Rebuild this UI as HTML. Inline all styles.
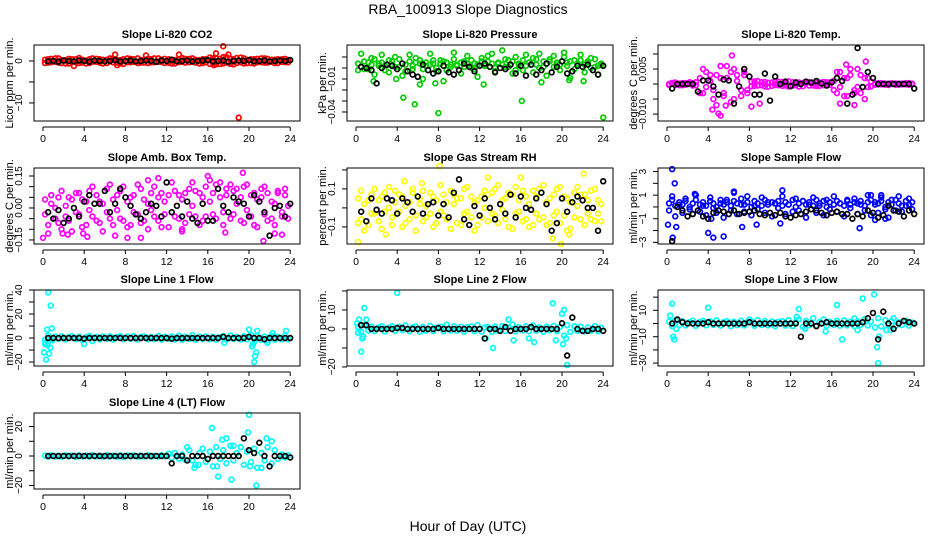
<!DOCTYPE html>
<html><head><meta charset="utf-8"><title>RBA_100913 Slope Diagnostics</title>
<style>
html,body{margin:0;padding:0;background:#fff;}
svg{display:block;font-family:"Liberation Sans",Arial,sans-serif;}
</style></head>
<body>
<svg id="chart" width="936" height="540" viewBox="0 0 936 540" xmlns="http://www.w3.org/2000/svg">
<rect x="0" y="0" width="936" height="540" fill="#fff"/>
<text x="468" y="14" text-anchor="middle" font-size="14">RBA_100913  Slope Diagnostics</text>
<text x="468" y="531" text-anchor="middle" font-size="14">Hour of Day (UTC)</text>
</svg>
<script>
const hours=[0.2,0.5,0.8,1.2,1.5,1.8,2.2,2.5,2.8,3.2,3.5,3.8,4.2,4.5,4.8,5.2,5.5,5.8,6.2,6.5,6.8,7.2,7.5,7.8,8.2,8.5,8.8,9.2,9.5,9.8,10.2,10.5,10.8,11.2,11.5,11.8,12.2,12.5,12.8,13.2,13.5,13.8,14.2,14.5,14.8,15.2,15.5,15.8,16.2,16.5,16.8,17.2,17.5,17.8,18.2,18.5,18.8,19.2,19.5,19.8,20.2,20.5,20.8,21.2,21.5,21.8,22.2,22.5,22.8,23.2,23.5,23.8];
const meanHours=[0.5,1,1.5,2,2.5,3,3.5,4,4.5,5,5.5,6,6.5,7,7.5,8,8.5,9,9.5,10,10.5,11,11.5,12,12.5,13,13.5,14,14.5,15,15.5,16,16.5,17,17.5,18,18.5,19,19.5,20,20.5,21,21.5,22,22.5,23,23.5,24];
const xTicks=[0,4,8,12,16,20,24];

// CO2
const co2A=[0.3,-0.4,0.5,-0.2,0.6,-0.5,0.2,-0.6,0.4,-0.3,0.7,-0.4,0.1,-0.5,0.6,-0.2,0.4,-0.6,0.3,-0.1,0.5,-0.4,0.2,-0.7,0.6,-0.3,0.4,-0.5,0.2,-0.4,0.5,-0.3,0.6,-0.2,0.3,-0.5,0.4,-0.6,0.2,-0.3,0.7,-0.4,0.5,-0.2,0.3,-0.6,0.4,-0.3,0.8,-0.5,0.6,-0.7,0.9,-0.4,0.5,-0.8,0.7,-0.3,0.6,-0.5,0.4,-0.6,0.5,-0.3,0.6,-0.4,0.3,-0.5,0.4,-0.2,0.5,-0.3];
const co2B=[-0.5,0.4,-0.3,0.6,-0.4,0.2,-0.6,0.5,-0.2,0.4,-0.5,0.3,-0.6,0.4,-0.2,0.5,-0.4,0.3,-0.5,0.6,-0.3,0.2,-0.6,0.4,-0.3,0.5,-0.2,0.6,-0.4,0.3,-0.5,0.4,-0.3,0.6,-0.2,0.5,-0.4,0.3,-0.6,0.4,-0.2,0.5,-0.3,0.6,-0.4,0.2,-0.5,0.4,-0.7,0.6,-0.8,0.5,-0.6,0.9,-0.7,0.4,-0.5,0.8,-0.6,0.3,-0.5,0.4,-0.3,0.6,-0.4,0.5,-0.2,0.3,-0.5,0.4,-0.3,0.2];
const co2OutH=[17.5,19,7,13.2,3,16.8,10,18,7.2,16.6];
const co2OutV=[3.5,-13.5,1.5,1.5,-1.2,1.8,1.3,1.5,-1,-1];
const co2Means=[-0.1,0,-0.2,0.1,0,-0.1,0.1,0,-0.2,0.1,0,-0.1,0,0.2,-0.1,0,0.1,-0.1,0,0.1,0,-0.2,0.1,0,0.3,-0.1,0,0.1,-0.1,0,0.1,0.2,-0.1,0,0.1,-0.2,0,0.1,0,0.2,-0.1,0,0.1,-0.1,0,0.1,0,0.2];

// Pressure
const presA=[.004,.001,.006,-.001,.003,.008,.002,.005,-.002,.007,.003,.010,.001,.004,-.003,.006,.002,.009,.004,-.001,.005,.003,.007,.000,.004,.006,-.002,.003,.008,.002,.005,.001,.004,.007,-.001,.003,.006,.002,.011,.004,.000,.005,.003,.008,.001,.006,-.002,.004,.007,.002,.005,.009,.003,.000,.006,.004,.008,.001,.005,.003,.010,.002,.006,-.001,.004,.007,.003,.005,.000,.008,.002,.004];
const presB=[-.002,.013,-.001,.005,.009,-.006,.004,.012,.002,-.004,.006,.001,.008,-.007,.003,.012,-.001,.005,.007,-.010,.002,.013,.004,-.003,.007,-.012,.005,.001,.014,.003,-.005,.006,.011,.000,.004,-.008,.009,.002,.006,.013,-.003,.004,.016,.001,.007,-.005,.010,.003,-.002,.012,.005,-.004,.008,.013,.001,-.007,.006,.011,.003,-.002,.014,.005,-.009,.007,.002,.012,-.004,.006,.009,.001,-.006,.003];
const presOutH=[4.6,5.7,8.0,16.1,24.0,1.7,6.2,7.7,18.0,20.7,22.1,12.4,3.9];
const presOutV=[-.027,-.033,-.041,-.030,-.045,-.012,-.015,-.014,-.013,-.011,-.012,-.015,-.010];
const presMeans=[.001,.000,-.002,-.014,.000,.003,.002,-.001,.004,-.003,-.006,-.008,.003,-.002,-.005,-.003,.002,-.004,-.006,-.002,.004,.001,-.003,.002,.004,.001,-.004,.000,-.001,.003,-.005,.002,-.007,.003,-.006,-.002,.004,-.004,.001,.006,-.005,-.003,.002,.001,.003,-.002,-.006,.002];

// Li-820 temperature
const tempA=[0,.0004,-.0003,.0002,-.0004,.0003,.0001,-.0005,.0006,.002,-.003,.004,.001,-.005,.003,.006,-.004,.002,-.006,.005,.003,-.002,.004,-.003,.0008,-.0006,.001,-.0004,.0007,-.0009,.0005,-.0003,.0008,-.0006,.0004,.0009,-.0005,.0006,-.0008,.0004,.0007,-.0005,.0003,-.0006,.0005,-.0004,.0006,-.0003,.001,-.003,.004,.002,-.004,.003,-.002,.005,-.003,.002,-.001,.0008,.0002,-.0001,.0003,-.0002,.0001,.0003,-.0002,.0001,.0002,-.0001,.0003,0];
const tempB=[-.0003,.0002,.0005,-.0004,.0003,-.0002,.0006,.0003,-.0004,-.003,.005,-.001,.003,-.002,-.007,.002,-.003,.006,.004,-.005,.001,-.004,.003,-.002,-.0007,.0009,-.0005,.0006,-.0008,.0004,-.0006,.0009,-.0004,.0007,-.0005,-.0008,.0006,-.0004,.0005,-.0007,.0003,.0006,-.0005,.0004,-.0006,.0007,-.0004,.0005,-.002,.004,-.001,-.004,.002,.005,-.003,-.001,.003,-.005,.002,-.0008,-.0002,.0003,-.0001,.0002,-.0003,.0001,.0002,-.0002,-.0001,.0003,-.0002,.0001];
const tempOutH=[5.0,5.2,6.3,4.4,8.2,16.8,17.4,19.3,5.7,9.0,18.2];
const tempOutV=[-.0098,-.0105,.0095,-.0085,-.0075,-.0065,.0065,.0075,-.0072,-.0065,-.007];
const tempMeans=[-.0015,0,0,0,0,-.0025,.0012,.0012,-.0008,-.0035,.0015,.0012,-.0065,-.0008,.005,.0025,-.0035,-.0035,.0035,-.0055,.0025,0,.0008,-.0007,.0005,0,.0008,.0005,.001,.0002,-.0005,.0006,.002,.001,-.0065,-.0035,.012,-.001,.004,.002,0,0,0,0,0,0,0,-.0015];

// Ambient box temperature
const ambA=[-.03,-.08,.02,-.05,.05,-.10,.01,-.06,.04,-.02,.07,-.09,.03,.08,-.04,.06,-.07,.02,.09,-.05,.04,-.01,.08,-.06,.03,-.08,.06,-.03,.09,-.06,.02,.07,-.04,.05,-.09,.03,.06,-.02,.08,-.05,.04,-.07,.09,.01,-.04,.07,-.06,.10,.03,-.03,.11,.05,-.02,.09,-.05,.08,.02,-.06,.10,-.01,.06,-.08,.04,.09,-.03,.07,-.05,.02,.08,-.04,.06,.01];
const ambB=[.04,-.12,.06,.00,-.07,.08,-.04,.05,-.11,.07,-.03,.04,-.08,-.01,.10,-.06,.03,-.11,-.02,.11,-.08,.06,-.05,.10,-.09,.05,-.02,.11,-.07,.04,-.10,-.01,.10,-.06,.07,-.03,-.09,.12,-.04,.06,-.10,.07,-.03,.12,.08,-.08,.05,-.04,.13,.07,-.05,.12,-.08,.06,.11,-.03,.09,.05,-.07,.11,-.04,.07,-.09,.05,.10,-.06,.03,-.08,.07,-.02,.09,-.05];
const ambOutH=[0.0,1.9,2.4,3.9,4.3,7.0,8.2,9.5,10.2,11.2,13.5,16.0,17.7,19.4,21.4,22.5,23.2];
const ambOutV=[-.14,-.12,-.125,-.12,-.135,-.13,-.14,-.14,.13,.14,-.11,.15,-.115,.165,-.155,-.12,-.125];
const ambMeans=[-.02,-.05,-.01,-.07,-.05,0,-.04,.03,.06,.02,.02,.08,-.02,.02,.09,.05,.01,-.03,-.05,-.02,.02,.01,-.04,.12,-.02,.01,-.04,.03,-.05,-.07,.02,-.06,-.06,.09,.01,-.02,.05,.03,.02,-.04,.06,.03,-.02,-.13,0,.01,-.04,.02];

// Gas stream RH
const rhA=[.05,-.06,.02,-.09,.07,-.03,.04,-.11,.08,.00,-.05,.09,-.02,.06,-.08,.03,.10,-.04,.05,-.07,.01,.08,-.10,.04,-.02,.07,-.06,.09,.02,-.08,.05,-.03,.11,-.05,.03,-.09,.06,.00,-.07,.08,-.04,.12,-.01,.05,-.10,.07,-.03,.04,.09,-.06,.02,-.09,.06,.10,-.05,.03,-.08,.07,-.02,.11,-.04,.05,-.11,.08,.01,-.06,.07,-.03,.09,-.07,.04,.02];
const rhB=[-.08,.09,-.12,.04,-.03,.10,-.07,.06,-.02,.11,-.09,.03,.07,-.10,.01,-.06,.08,-.12,.02,.09,-.05,-.03,.06,-.08,.12,-.04,.03,-.11,.07,.05,-.09,.10,-.02,.06,-.12,.04,-.05,.09,.07,-.03,.10,-.08,.04,-.06,.08,-.11,.11,-.02,-.07,.06,-.10,.09,-.03,-.06,.12,-.09,.05,-.04,.10,-.08,.06,-.12,.03,-.05,.11,.07,-.09,.04,-.06,.10,-.03,-.07];
const rhOutH=[0.2,2.9,4.7,6.4,8.1,12.8,16.0,19.1,19.9,22.1,20.7];
const rhOutV=[-.18,-.14,.14,.13,.22,.16,.16,-.16,-.19,.18,-.14];
const rhMeans=[-.02,-.07,.05,-.01,-.03,.05,.04,-.03,.05,.03,-.02,.06,-.03,.02,.03,-.04,.02,-.05,.08,.15,-.06,-.09,.01,-.04,.05,.00,-.06,.02,-.03,.07,-.05,.06,.00,-.01,.05,.08,.02,-.12,-.08,.05,-.02,.03,.06,.04,.00,.00,-.12,.14];

// Sample flow
const sfA=[.3,.6,.1,.4,.2,.5,.0,.3,.6,.2,.4,.1,.5,.3,.0,.6,.2,.4,.1,.5,.3,.7,.2,.4,.0,.5,.3,.1,.6,.2,.4,.3,.5,.1,.4,.2,.6,.0,.3,.5,.2,.4,.1,.6,.3,.5,.0,.4,.2,.5,.3,.1,.6,.2,.4,.3,.5,.1,.4,.6,.2,.3,.5,.0,.4,.2,.6,.3,.1,.5,.2,.4];
const sfB=[-.3,.9,-.8,.2,-.5,.7,-.2,-.6,1.0,-.4,.1,-.7,.8,-.1,-.5,.3,-.9,.6,-.3,1.2,-.6,.2,-.4,.9,-.7,.1,-.2,.8,-.5,.4,-.8,.3,-.1,.9,-.6,.2,-.4,.7,-.3,.5,-.9,.2,.8,-.5,.1,-.7,.6,-.2,.9,-.4,.3,-.8,.5,-.1,.7,-.6,.2,-.3,1.0,-.7,.4,-.5,.8,-.2,-.9,.6,-.3,.9,-.4,.1,.7,-.2];
const sfOutH=[0.5,0.75,0.1,0.55,0.9,2.7,4.0,4.5,5.5,6.5,7.3,8.7,11.2,18.7,20.2,20.8,21.2,19.8,4.3,11.0];
const sfOutV=[3.2,2.0,-1.5,-2.6,-1.7,1.1,-2.2,-2.6,-2.5,1.3,-1.7,-1.5,1.4,-1.8,-1.1,1.0,-1.0,1.0,-1.0,-1.4];
const sfMeans=[-2.9,0.0,-0.3,-0.8,-0.6,-0.3,-0.8,-1.0,-0.5,-0.3,-0.4,-0.6,-0.3,-0.6,-0.5,-0.4,-0.3,-0.6,-0.7,-0.5,-0.7,-0.5,-0.8,-0.9,-0.7,-0.6,-0.4,-0.2,-0.3,-0.5,-0.7,-0.5,-0.4,-0.6,-0.6,-1.0,-0.6,-0.8,-0.3,-0.5,-0.9,-0.7,0.1,-0.3,-0.4,-0.8,-0.3,-0.6];

// Line 1 flow
const l1A=[-1.5,2.0,-1.0,1.2,-0.8,1.5,-1.2,0.8,1.6,-0.9,1.1,-1.4,0.7,1.8,-2.5,1.0,-1.1,1.3,-0.6,1.4,-1.3,0.9,1.5,-1.0,1.2,-0.7,1.6,-1.2,0.8,1.3,-1.1,1.0,-0.9,1.7,-1.3,1.1,-0.8,1.4,-1.2,1.9,-1.5,1.0,-0.7,2.5,-1.4,1.2,-0.9,1.3,-1.0,1.1,-1.4,0.9,1.6,-1.2,2.0,-0.8,1.0,-1.3,1.5,-1.1,2.5,-3.0,1.7,-1.5,1.2,-2.0,1.8,-1.4,1.0,-1.2,2.2,-1.0];
const l1OutH=[0.5,0.75,0.85,0.4,0.1,0.3,0.6,0.7,0.45,0.9,0.2,20.0,20.5,20.6,20.7,20.4,20.3,20.8,22.3,23.6,0.25,17.6,21.8,4.0];
const l1OutV=[38,27,8,7,-12,-18,-13,-8,-6,-2,-5,7,-20,-15,-12,-5,-7,6,4,6,-4,-4,-4,-5];
const l1Means=[0,0,0,0,0,0,0,-0.5,0,0,0,0,0,0,0,0,0,0,0,0,0,0,0,0,-0.5,0,0,0,0,0,0,0,0,0,1,0,0,0,0,1,0,0,-1,0,0,0,0,0];

// Line 2 flow
const l2A=[1.0,-1.5,2.0,-0.8,1.2,-1.1,0.9,1.5,-1.3,0.7,1.4,-1.0,1.1,-0.6,1.8,-1.2,0.8,1.3,-1.4,1.0,-0.9,1.6,-1.1,0.7,1.2,-1.3,2.2,-0.8,1.4,-1.0,1.1,-1.5,0.9,1.3,-1.2,2.0,-1.4,0.8,1.0,-1.6,1.3,-0.9,1.5,-1.1,0.7,2.3,-1.3,1.0,-0.8,1.4,-1.2,1.8,-1.0,0.9,-1.5,1.2,-0.7,1.6,-1.1,1.0,-3.5,2.0,-1.6,1.4,-1.0,1.2,-1.3,0.8,-0.9,1.5,-1.2,0.6];
const l2OutH=[0.3,0.5,0.6,0.8,1.0,0.2,0.7,4.0,13.3,12.6,19.1,20.0,20.2,20.4,20.5,19.4,16.8,15.3,17.3,14.8,20.1,0.1];
const l2OutV=[5,-12,-5,11,5,-2,-4,19,-10,-5,13.5,8,10,-5,-19,-6,-5,-6,-7,5,-8,3];
const l2Means=[2,2,0,0,0,0,0,0.5,0.5,0,0,0,0,0,0,0.5,0,0,0,0,0,0,0,0,-5,0,0,-1,1,-1,0,0,0,1,0,0,0,0,0,3,-14,6,0,-1,-1,0,0,-1];

// Line 3 flow
const l3A=[1.5,-2.0,2.5,-1.2,1.8,-1.5,1.0,2.2,-1.8,1.2,2.0,-1.4,1.6,-1.0,2.4,-1.6,1.1,1.8,-2.0,1.4,-1.2,2.1,-1.5,1.0,1.7,-1.8,2.6,-1.1,1.9,-1.4,1.5,-2.0,1.2,1.8,-1.6,2.5,-1.9,1.1,3.0,-2.5,2.0,-1.3,4.0,-1.6,1.0,3.0,-1.8,1.4,-1.1,2.0,-1.7,2.4,-1.4,1.2,-2.0,1.7,-1.0,3.5,-1.5,1.4,-3.0,4.0,-2.2,2.5,-1.4,1.7,-1.8,1.1,-1.2,2.0,-1.6,0.8];
const l3OutH=[0.5,0.6,0.7,0.3,0.9,4.0,12.6,12.8,16.5,17.0,18.5,19.0,20.1,20.4,20.5,20.6,15.4,13.4,21.3,21.7,22.0,18.2,8.0];
const l3OutV=[15,-10,-12,6,-4,12,5,11,14,-12,-5,19,22,-18,-30,-10,-6,-4,-5,-5,4,4,3];
const l3Means=[0,3,1,0,0,0,0,1,0,0,0,0,0,0,0,1,0,0,0,0,0,0,0,0,0,-10,0,0,-2,0,1,0,0,0,0,0,0,1,4,8,-12,9,0,-4,0,2,1,0];

// Line 4 (LT) flow
const l4A=[0.3,-0.4,0.5,-0.3,0.2,-0.5,0.4,-0.2,0.3,-0.6,0.5,-0.3,0.2,-0.4,0.6,-0.2,0.3,-0.5,0.4,-0.3,0.2,-0.4,0.5,-0.6,0.3,-0.2,0.4,-0.5,0.3,-0.3,0.5,-0.4,0.2,-0.3,0.4,-0.2,1.5,-1.2,2.0,-1.8,1.0,-2.5,4,-3,-6,2,5,-4,3,-7,6,-2,4,-5,7,-3,2,6,-6,3,-4,5,-8,2,-3,6,-5,4,-2,1,-1,0.5];
const l4OutH=[16.4,20.0,19.9,17.8,18.3,17.0,16.9,20.7,21.7,14.0,14.7,17.4,20.1,21.2,22.2,18.5,15.1];
const l4OutV=[19,28,16,12,-16,-14,-7,-20,12,6,-8,11,-7,-8,10,7,-6];
const l4Means=[0,0,0,0,0,0,0,0,0,0,0,0,0,0,0,0,0,0,0,0,0,0,0,0,-5,0,0,-3,0,0,0,-2,0,0,0,0,0,0,12,4,2,9,0,-7,0,0,0,-1];

const NS='http://www.w3.org/2000/svg';
const svg=document.getElementById('chart');
function mk(tag,attrs,parent){const e=document.createElementNS(NS,tag);for(const k in attrs)e.setAttribute(k,attrs[k]);(parent||svg).appendChild(e);return e;}

const colOff=[0,313,624];
const rowTop=[45,168,290,413];
const BOX_W=266,BOX_H=76,BOX_L=34,X0=43,XPH=10.3;

const panels=[
 {key:'co2',col:0,row:0,title:'Slope Li-820 CO2',ylab:'Licor ppm per min.',color:'#ff0000',dom:[-14.3,3.8],ticks:[0,-5,-10],labels:['0','','-10'],A:co2A,B:co2B,oh:co2OutH,ov:co2OutV,m:co2Means},
 {key:'pressure',col:1,row:0,title:'Slope Li-820 Pressure',ylab:'kPa per min.',color:'#00cd00',dom:[-0.0482,0.0209],ticks:[0.01,0,-0.01,-0.02,-0.03,-0.04],labels:['','','-0.01','','','-0.04'],A:presA,B:presB,oh:presOutH,ov:presOutV,m:presMeans},
 {key:'li820-temp',col:2,row:0,title:'Slope Li-820 Temp.',ylab:'degrees C per min.',color:'#ff00ff',dom:[-0.0123,0.013],ticks:[0.01,0.005,0,-0.005,-0.01],labels:['','0.005','','','-0.010'],A:tempA,B:tempB,oh:tempOutH,ov:tempOutV,m:tempMeans},
 {key:'amb-box-temp',col:0,row:1,title:'Slope Amb. Box Temp.',ylab:'degrees C per min.',color:'#ff00ff',dom:[-0.169,0.1875],ticks:[0.15,0.1,0.05,0,-0.05,-0.1,-0.15],labels:['0.15','0.10','0.05','0.00','-0.05','-0.10','-0.15'],A:ambA,B:ambB,oh:ambOutH,ov:ambOutV,m:ambMeans},
 {key:'gas-stream-rh',col:1,row:1,title:'Slope Gas Stream RH',ylab:'percent per min.',color:'#ffff00',dom:[-0.19,0.21],ticks:[0.2,0.1,0,-0.1],labels:['','0.1','','-0.1'],A:rhA,B:rhB,oh:rhOutH,ov:rhOutV,m:rhMeans},
 {key:'sample-flow',col:2,row:1,title:'Slope Sample Flow',ylab:'ml/min per min.',color:'#0000ff',dom:[-3.14,3.3],ticks:[3,2,1,0,-1,-2,-3],labels:['3','','1','','-1','','-3'],A:sfA,B:sfB,oh:sfOutH,ov:sfOutV,m:sfMeans},
 {key:'line1-flow',col:0,row:2,title:'Slope Line 1 Flow',ylab:'ml/min per min.',color:'#00ffff',dom:[-23.3,40],ticks:[40,30,20,10,0,-10,-20],labels:['40','','20','','0','','-20'],A:l1A,B:null,oh:l1OutH,ov:l1OutV,m:l1Means},
 {key:'line2-flow',col:1,row:2,title:'Slope Line 2 Flow',ylab:'ml/min per min.',color:'#00ffff',dom:[-19.5,20.5],ticks:[20,10,0,-10,-20],labels:['','10','0','','-20'],A:l2A,B:null,oh:l2OutH,ov:l2OutV,m:l2Means},
 {key:'line3-flow',col:2,row:2,title:'Slope Line 3 Flow',ylab:'ml/min per min.',color:'#00ffff',dom:[-32.2,25.4],ticks:[20,10,0,-10,-20,-30],labels:['','10','','-10','','-30'],A:l3A,B:null,oh:l3OutH,ov:l3OutV,m:l3Means},
 {key:'line4-flow',col:0,row:3,title:'Slope Line 4 (LT) Flow',ylab:'ml/min per min.',color:'#00ffff',dom:[-22.4,29.2],ticks:[20,10,0,-10,-20],labels:['20','','0','','-20'],A:l4A,B:null,oh:l4OutH,ov:l4OutV,m:l4Means}
];
panels[3].labels=['0.15','','','0.00','','','-0.15'];

function drawPanel(p){
  const off=colOff[p.col],top=rowTop[p.row],bot=top+BOX_H,left=BOX_L+off;
  const g=mk('g',{});
  
  
  const xs=h=>off+X0+h*XPH;
  const ys=v=>bot-(v-p.dom[0])/(p.dom[1]-p.dom[0])*BOX_H;
  const t=mk('text',{x:left+BOX_W/2,y:top-7,'text-anchor':'middle','font-size':'11','font-weight':'bold'},g);
  t.textContent=p.title;
  
  
  const yl=mk('text',{transform:`translate(${off+13},${top+BOX_H/2}) rotate(-90)`,'text-anchor':'middle','font-size':'11'},g);
  yl.textContent=p.ylab;
  
  
  const xa=mk('g',{},g);
  
  
  mk('line',{x1:xs(xTicks[0]),x2:xs(xTicks[xTicks.length-1]),y1:bot+6,y2:bot+6,stroke:'#000','stroke-width':1},xa);
  xTicks.forEach(v=>{
    mk('line',{x1:xs(v),x2:xs(v),y1:bot+6,y2:bot+10,stroke:'#000','stroke-width':1},xa);
    const tl=mk('text',{x:xs(v),y:bot+21,'text-anchor':'middle','font-size':'10.5'},xa);
    tl.textContent=String(v);
    
    
  });
  const ya=mk('g',{},g);
  
  
  p.ticks.forEach((v,i)=>{
    mk('line',{x1:left-5,x2:left,y1:ys(v),y2:ys(v),stroke:'#000','stroke-width':1},ya);
    if(p.labels[i]){
      const tl=mk('text',{transform:`translate(${left-12},${ys(v)}) rotate(-90)`,'text-anchor':'middle','font-size':'10'},ya);
      tl.textContent=p.labels[i].replace('-','\u2212');
      
      
    }
  });
  const pts=mk('g',{fill:'none',stroke:p.color,'stroke-width':1.7},g);
  
  
  const series=[p.A,p.B].filter(Boolean);
  series.forEach(arr=>{
    const n=Math.min(arr.length,hours.length);
    for(let i=0;i<n;i++){
      const c=mk('circle',{cx:xs(hours[i]),cy:ys(arr[i]),r:2.4},pts);
      
      
    }
  });
  for(let i=0;i<Math.min(p.oh.length,p.ov.length);i++){
    const c=mk('circle',{cx:xs(p.oh[i]),cy:ys(p.ov[i]),r:2.4},pts);
    
    
  }
  const mg=mk('g',{fill:'none',stroke:'#000','stroke-width':1.7},g);
  
  
  for(let i=0;i<Math.min(p.m.length,meanHours.length);i++){
    const c=mk('circle',{cx:xs(meanHours[i]),cy:ys(p.m[i]),r:2.4},mg);
    
    
  }
  const box=mk('rect',{x:left,y:top,width:BOX_W,height:BOX_H,fill:'none',stroke:'#000','stroke-width':1},g);
  
  
}
panels.forEach(drawPanel);
</script>
</body></html>
